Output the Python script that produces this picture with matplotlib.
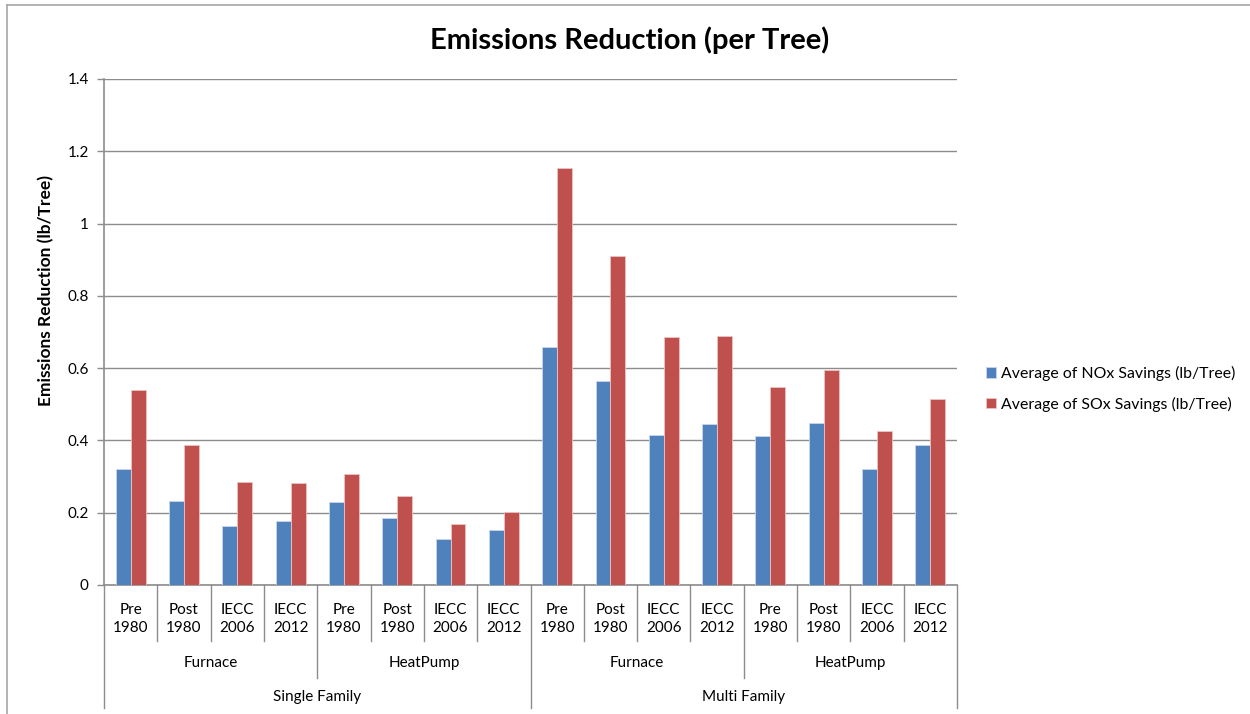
import matplotlib
matplotlib.use("Agg")
import matplotlib.pyplot as plt
from matplotlib.lines import Line2D
import matplotlib.transforms as mtransforms
import numpy as np

plt.rcParams['font.family'] = ['Lato', 'DejaVu Sans']

# ---- data ----
level1 = ["Pre\n1980", "Post\n1980", "IECC\n2006", "IECC\n2012"] * 4
level2 = ["Furnace", "HeatPump", "Furnace", "HeatPump"]
level3 = ["Single Family", "Multi Family"]
nox = [0.322, 0.232, 0.164, 0.177, 0.231, 0.184, 0.126, 0.151,
       0.658, 0.564, 0.416, 0.445, 0.411, 0.447, 0.320, 0.387]
sox = [0.540, 0.387, 0.286, 0.283, 0.307, 0.245, 0.168, 0.202,
       1.153, 0.911, 0.685, 0.688, 0.547, 0.595, 0.425, 0.515]
series_names = ["Average of NOx Savings (lb/Tree)", "Average of SOx Savings (lb/Tree)"]
yticks = [0, 0.2, 0.4, 0.6, 0.8, 1, 1.2, 1.4]
ytick_labels = ["0", "0.2", "0.4", "0.6", "0.8", "1", "1.2", "1.4"]

BLUE = "#4F81BD"
RED = "#C0504D"
GRID = "#8C8C8C"

W, H = 1250, 714
fig = plt.figure(figsize=(W / 100, H / 100), dpi=100)
ax = fig.add_axes([104 / W, 1 - 585 / H, (957 - 104) / W, (585 - 79) / H])

x = np.arange(len(nox))
bw = 0.28
b1 = ax.bar(x - bw / 2, nox, width=bw, color=BLUE, edgecolor="#C9D6EA", linewidth=0.6, label=series_names[0], zorder=3)
b2 = ax.bar(x + bw / 2, sox, width=bw, color=RED, edgecolor="#EBC4C3", linewidth=0.6, label=series_names[1], zorder=3)

ax.set_xlim(-0.5, len(nox) - 0.5)
ax.set_ylim(0, 1.4)
ax.set_yticks(yticks)
ax.set_yticklabels(ytick_labels, fontsize=11)
ax.yaxis.grid(True, color=GRID, linewidth=1.0, zorder=0)
ax.set_axisbelow(True)
ax.tick_params(axis='y', length=5, width=1, color=GRID, pad=6)
ax.set_xticks([])
for s in ["top", "right"]:
    ax.spines[s].set_visible(False)
for s in ["left", "bottom"]:
    ax.spines[s].set_color(GRID)
    ax.spines[s].set_linewidth(1.2)

fig.text(46 / W, 1 - 291 / H, "Emissions Reduction (lb/Tree)", ha="center", va="center",
         rotation=90, fontsize=12.5, fontweight="bold")
fig.text(630 / W, 1 - 40 / H, "Emissions Reduction (per Tree)", ha="center", va="center",
         fontsize=21, fontweight="bold")

# ---- multi-level x axis ----
trans = mtransforms.blended_transform_factory(ax.transData, ax.transAxes)
def ypx(p):
    return (585 - p) / (585 - 79)

n = len(nox)
for i in range(n + 1):
    xb = i - 0.5
    if i % 8 == 0:
        yend = 708
    elif i % 4 == 0:
        yend = 678
    else:
        yend = 641
    ax.add_line(Line2D([xb, xb], [0, ypx(yend)], transform=trans, color=GRID,
                       linewidth=1.0, clip_on=False))
for i, lab in enumerate(level1):
    ax.text(i, ypx(619), lab, transform=trans, ha="center", va="center",
            fontsize=11, linespacing=1.4)
for g, lab in enumerate(level2):
    ax.text(g * 4 + 1.5, ypx(663), lab, transform=trans, ha="center", va="center", fontsize=11)
for g, lab in enumerate(level3):
    ax.text(g * 8 + 3.5, ypx(697), lab, transform=trans, ha="center", va="center", fontsize=11)

# ---- legend ----
leg = fig.legend(handles=[b1, b2], labels=series_names, loc="center left",
                 bbox_to_anchor=(972 / W, 1 - 389 / H), frameon=False, fontsize=11.4,
                 handlelength=0.6, handleheight=0.6, handletextpad=0.35, labelspacing=1.0)

# ---- outer chart border (top & left visible) ----
fig.add_artist(Line2D([7 / W, 7 / W], [0, 1 - 5 / H], transform=fig.transFigure, color="#A6A6A6", linewidth=1.2))
fig.add_artist(Line2D([7 / W, 1], [1 - 5 / H, 1 - 5 / H], transform=fig.transFigure, color="#A6A6A6", linewidth=1.2))

fig.savefig("out.png", dpi=100)
